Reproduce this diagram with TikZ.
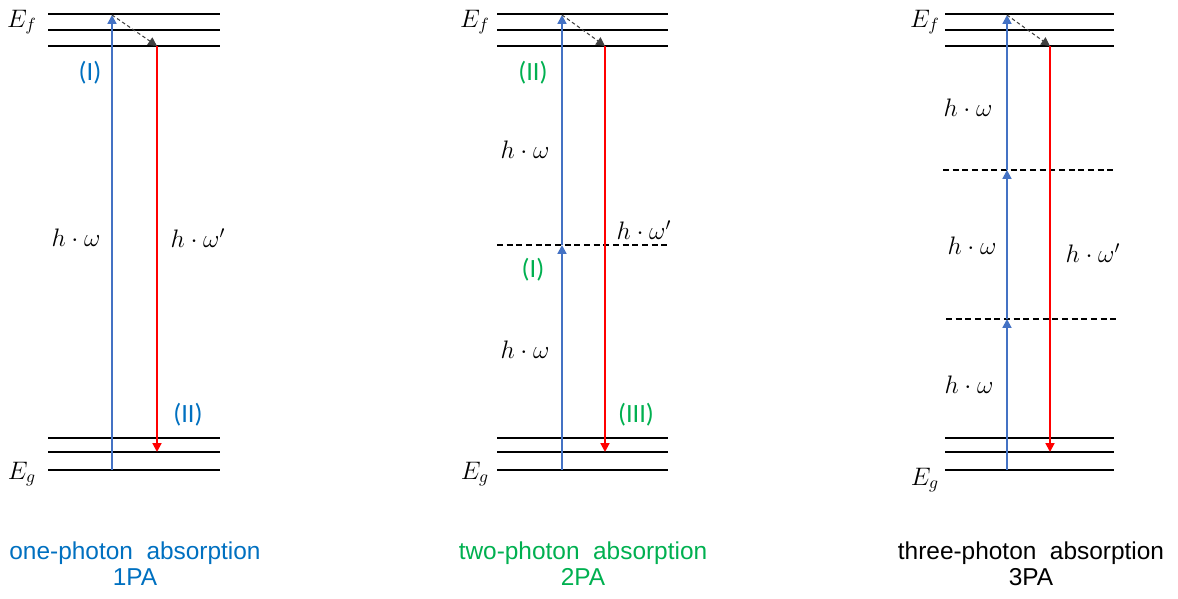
\documentclass[tikz,border=0pt]{standalone}
\usepackage{fontspec}
\setmainfont{Liberation Sans}
\newfontfamily\stepfont{Carlito}
\usetikzlibrary{arrows.meta}
\definecolor{pumpblue}{HTML}{4472C4}
\definecolor{textblue}{HTML}{0070C0}
\definecolor{textgreen}{HTML}{00B050}
\tikzset{
  level/.style={line width=1.4pt},
  virtual/.style={line width=0.9pt, dash pattern=on 3.5pt off 2pt},
  pump/.style={pumpblue, line width=1.1pt, -{Triangle[width=5pt,length=5pt]}},
  emit/.style={red, line width=1.1pt, -{Triangle[width=5pt,length=5pt]}},
  relax/.style={black!75, line width=0.6pt, dash pattern=on 2pt off 1.5pt, -{Triangle[width=5pt,length=5pt]}},
  energy/.style={font=\fontsize{14}{16}\selectfont},
  photon/.style={font=\fontsize{14.5}{17}\selectfont},
  stepno/.style={font=\stepfont\fontsize{15}{18}\selectfont},
  caption/.style={font=\fontsize{13.9}{16}\selectfont}
}
\begin{document}
\begin{tikzpicture}[x=0.02cm, y=-0.02cm]
  \useasboundingbox (0,0) rectangle (1178,599);
  % one-photon absorption
  \foreach \y in {14,30,46,438,452,470}
    \draw[level] (48,\y) -- (220,\y);
  \node[energy] (ef1) at (22,22) {$E_f$};
  \node[energy] (eg1) at (22,474) {$E_g$};
  \coordinate (g1) at (112,470);
  \coordinate (f1) at (112,15);
  \coordinate (t1) at (157,46);
  \coordinate (b1) at (157,452);
  \draw[pump] (g1) -- (f1);
  \draw[relax] (f1) -- (t1);
  \draw[emit] (t1) -- (b1);
  \node[stepno, textblue] (s1a) at (90,73) {(I)};
  \node[stepno, textblue] (s1b) at (188,415) {(II)};
  \node[photon] (w1) at (76,238) {$h\cdot\omega$};
  \node[photon] (v1) at (198,238) {$h\cdot\omega'$};
  \node[caption, textblue] (c1) at (135,553) {one-photon\ \ absorption};
  \node[caption, textblue] (d1) at (135,577) {1PA};
  % two-photon absorption
  \foreach \y in {14,30,46,438,452,470}
    \draw[level] (497,\y) -- (668,\y);
  \draw[virtual] (497,245) -- (668,245);
  \node[energy] (ef2) at (475,22) {$E_f$};
  \node[energy] (eg2) at (475,474) {$E_g$};
  \coordinate (g2) at (562,470);
  \coordinate (m2) at (562,245);
  \coordinate (f2) at (562,15);
  \coordinate (t2) at (605,46);
  \coordinate (b2) at (605,452);
  \draw[pump] (g2) -- (m2);
  \draw[pump] (m2) -- (f2);
  \draw[relax] (f2) -- (t2);
  \draw[emit] (t2) -- (b2);
  \node[stepno, textgreen] (s2a) at (533,73) {(II)};
  \node[stepno, textgreen] (s2b) at (533,270) {(I)};
  \node[stepno, textgreen] (s2c) at (636,415) {(III)};
  \node[photon] (w2a) at (525,150) {$h\cdot\omega$};
  \node[photon] (w2b) at (525,350) {$h\cdot\omega$};
  \node[photon] (v2) at (644,230) {$h\cdot\omega'$};
  \node[caption, textgreen] (c2) at (583,553) {two-photon\ \ absorption};
  \node[caption, textgreen] (d2) at (583,577) {2PA};
  % three-photon absorption
  \foreach \y in {14,30,46,438,452,470}
    \draw[level] (945,\y) -- (1114,\y);
  \draw[virtual] (943,170) -- (1114,170);
  \draw[virtual] (946,319) -- (1117,319);
  \node[energy] (ef3) at (925,22) {$E_f$};
  \node[energy] (eg3) at (925,480) {$E_g$};
  \coordinate (g3) at (1007,470);
  \coordinate (m3) at (1007,319);
  \coordinate (n3) at (1007,170);
  \coordinate (f3) at (1007,15);
  \coordinate (t3) at (1050,46);
  \coordinate (b3) at (1050,452);
  \draw[pump] (g3) -- (m3);
  \draw[pump] (m3) -- (n3);
  \draw[pump] (n3) -- (f3);
  \draw[relax] (f3) -- (t3);
  \draw[emit] (t3) -- (b3);
  \node[photon] (w3a) at (968,108) {$h\cdot\omega$};
  \node[photon] (w3b) at (972,246) {$h\cdot\omega$};
  \node[photon] (w3c) at (969,385) {$h\cdot\omega$};
  \node[photon] (v3) at (1093,253) {$h\cdot\omega'$};
  \node[caption] (c3) at (1031,553) {three-photon\ \ absorption};
  \node[caption] (d3) at (1031,577) {3PA};
\end{tikzpicture}
\end{document}
